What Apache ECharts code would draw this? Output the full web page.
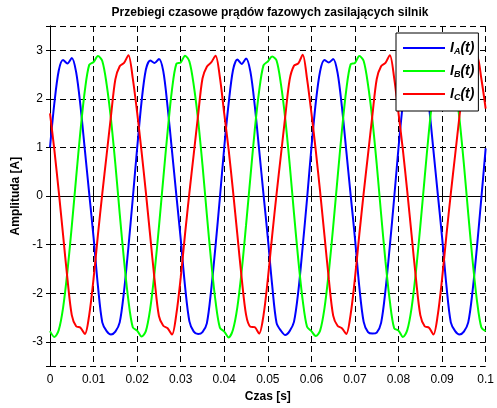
<!DOCTYPE html>
<html>
<head>
<meta charset="utf-8">
<script src="https://cdn.jsdelivr.net/npm/echarts@6/dist/echarts.min.js"></script>
<style>
  html, body { margin: 0; padding: 0; background: #fff; }
  #chart { width: 497px; height: 408px; }
</style>
</head>
<body>
<div id="chart"></div>
<script>
// sampling step of the traces [s]
const T_STEP = 0.001;

// phase current A (blue), one value per ms, 0 .. 100 ms
const IA = [
  1.00, 1.91, 2.58, 2.80, 2.73, 2.84, 2.55, 1.85, 0.95, 0.05, -0.85, -1.85, -2.60, -2.78, -2.85, -2.79, -2.60, -1.95, -1.05, -0.05,
  0.98, 1.93, 2.60, 2.79, 2.74, 2.82, 2.57, 1.83, 0.93, 0.02, -0.88, -1.86, -2.58, -2.79, -2.84, -2.80, -2.62, -1.93, -1.02, -0.03,
  1.01, 1.90, 2.59, 2.81, 2.72, 2.83, 2.56, 1.86, 0.96, 0.04, -0.86, -1.84, -2.61, -2.77, -2.86, -2.78, -2.59, -1.96, -1.04, -0.06,
  0.99, 1.92, 2.57, 2.80, 2.75, 2.82, 2.54, 1.84, 0.94, 0.03, -0.87, -1.87, -2.59, -2.80, -2.83, -2.81, -2.61, -1.94, -1.03, -0.04,
  1.00, 1.91, 2.58, 2.79, 2.73, 2.84, 2.56, 1.85, 0.95, 0.05, -0.85, -1.85, -2.60, -2.78, -2.85, -2.79, -2.60, -1.95, -1.05, -0.05,
  0.98
];

// phase current B (green)
const IB = [
  -2.78, -2.90, -2.76, -2.30, -1.55, -0.62, 0.38, 1.35, 2.17, 2.70, 2.76, 2.88, 2.78, 2.30, 1.58, 0.66, -0.36, -1.33, -2.15, -2.70,
  -2.77, -2.89, -2.78, -2.32, -1.57, -0.64, 0.36, 1.33, 2.19, 2.72, 2.75, 2.89, 2.77, 2.28, 1.56, 0.64, -0.38, -1.35, -2.17, -2.71,
  -2.79, -2.91, -2.75, -2.29, -1.54, -0.60, 0.39, 1.36, 2.16, 2.69, 2.77, 2.87, 2.79, 2.31, 1.59, 0.67, -0.35, -1.32, -2.14, -2.69,
  -2.78, -2.88, -2.77, -2.31, -1.56, -0.63, 0.37, 1.34, 2.18, 2.71, 2.74, 2.88, 2.78, 2.29, 1.57, 0.65, -0.37, -1.34, -2.16, -2.72,
  -2.77, -2.90, -2.76, -2.30, -1.55, -0.62, 0.38, 1.35, 2.17, 2.70, 2.76, 2.89, 2.77, 2.30, 1.58, 0.66, -0.36, -1.33, -2.15, -2.70,
  -2.78
];

// phase current C (red)
const IC = [
  1.70, 0.95, 0.10, -0.80, -1.70, -2.45, -2.68, -2.71, -2.84, -2.45, -1.70, -0.80, 0.05, 0.85, 1.65, 2.40, 2.67, 2.74, 2.90, 2.42,
  1.72, 0.93, 0.08, -0.82, -1.72, -2.47, -2.67, -2.72, -2.85, -2.43, -1.68, -0.78, 0.07, 0.87, 1.67, 2.42, 2.66, 2.75, 2.89, 2.44,
  1.69, 0.96, 0.11, -0.79, -1.69, -2.44, -2.69, -2.70, -2.83, -2.46, -1.71, -0.81, 0.04, 0.84, 1.64, 2.39, 2.68, 2.73, 2.91, 2.41,
  1.71, 0.94, 0.09, -0.81, -1.71, -2.46, -2.67, -2.72, -2.84, -2.44, -1.69, -0.79, 0.06, 0.86, 1.66, 2.41, 2.67, 2.74, 2.90, 2.43,
  1.70, 0.95, 0.10, -0.80, -1.70, -2.45, -2.68, -2.71, -2.85, -2.45, -1.70, -0.80, 0.05, 0.85, 1.65, 2.40, 2.66, 2.75, 2.89, 2.42,
  1.80
];

const seriesNames = ['IA(t)', 'IB(t)', 'IC(t)'];
const seriesColors = ['#0000ff', '#00ff00', '#ff0000'];

const FONT = 'Liberation Sans, Arial, Helvetica, sans-serif';

function toPairs(values) {
  return values.map((v, i) => [i * T_STEP, v]);
}

const myChart = echarts.init(document.getElementById('chart'), null, { renderer: 'canvas' });

const frameAxis = {
  axisLine: { show: true, lineStyle: { color: '#000', width: 1 } },
  axisTick: { show: true, inside: true, length: 4, lineStyle: { color: '#000' } },
};

const option = {
  animation: false,
  backgroundColor: '#fff',
  title: {
    text: 'Przebiegi czasowe prądów fazowych zasilających silnik',
    left: 270,
    top: 7,
    padding: 0,
    textAlign: 'center',
    textStyle: { fontFamily: FONT, fontSize: 12, fontWeight: 'bold', color: '#000' }
  },
  grid: { left: 50, right: 8, top: 26, bottom: 36, containLabel: false },
  legend: {
    orient: 'vertical',
    left: 396,
    top: 33,
    padding: [8, 4, 9, 7],
    itemGap: 8,
    itemWidth: 42,
    itemHeight: 2,
    icon: 'rect',
    backgroundColor: '#fff',
    borderColor: '#000',
    borderWidth: 1,
    borderRadius: 0,
    data: seriesNames,
    formatter: name => '{i|I}{s|' + name.charAt(1) + '}{i|(t)}',
    textStyle: {
      color: '#000',
      fontFamily: FONT,
      fontSize: 14,
      fontWeight: 'bold',
      fontStyle: 'italic',
      rich: {
        i: { fontFamily: FONT, fontSize: 14, fontWeight: 'bold', fontStyle: 'italic', color: '#000' },
        s: { fontFamily: FONT, fontSize: 9, fontWeight: 'bold', fontStyle: 'italic', color: '#000',
             verticalAlign: 'bottom', padding: [7, 0, 0, 0] }
      }
    }
  },
  xAxis: [
    Object.assign({
      type: 'value', min: 0, max: 0.1, interval: 0.01, position: 'bottom',
      name: 'Czas [s]', nameLocation: 'middle', nameGap: 23,
      nameTextStyle: { fontFamily: FONT, fontSize: 12, fontWeight: 'bold', color: '#000' },
      axisLabel: { color: '#000', fontFamily: FONT, fontSize: 12, margin: 8,
                   formatter: v => String(+v.toFixed(2)) },
      splitLine: { show: true, lineStyle: { color: '#000', width: 1, type: [6, 4] } }
    }, frameAxis),
    Object.assign({
      type: 'value', min: 0, max: 0.1, interval: 0.01, position: 'top',
      axisLabel: { show: false }, splitLine: { show: false }
    }, frameAxis)
  ],
  yAxis: [
    Object.assign({
      type: 'value', min: -3.5, max: 3.5, splitNumber: 7, position: 'left',
      name: 'Amplituda [A]', nameLocation: 'middle', nameGap: 20,
      nameTextStyle: { fontFamily: FONT, fontSize: 12, fontWeight: 'bold', color: '#000' },
      axisLabel: { color: '#000', fontFamily: FONT, fontSize: 12, margin: 7,
                   showMinLabel: false, showMaxLabel: false,
                   formatter: v => (Number.isInteger(v) ? String(v) : '') },
      splitLine: { show: true, lineStyle: { color: '#000', width: 1, type: [6, 4] } }
    }, frameAxis),
    Object.assign({
      type: 'value', min: -3.5, max: 3.5, splitNumber: 7, position: 'right',
      axisLabel: { show: false }, splitLine: { show: false }
    }, frameAxis)
  ],
  series: [IA, IB, IC].map((vals, k) => ({
    name: seriesNames[k],
    type: 'line',
    xAxisIndex: 0,
    yAxisIndex: 0,
    data: toPairs(vals),
    symbol: 'none',
    showSymbol: false,
    smooth: 0.3,
    clip: true,
    color: seriesColors[k],
    lineStyle: { color: seriesColors[k], width: 2 }
  }))
};

myChart.setOption(option);
</script>
</body>
</html>
